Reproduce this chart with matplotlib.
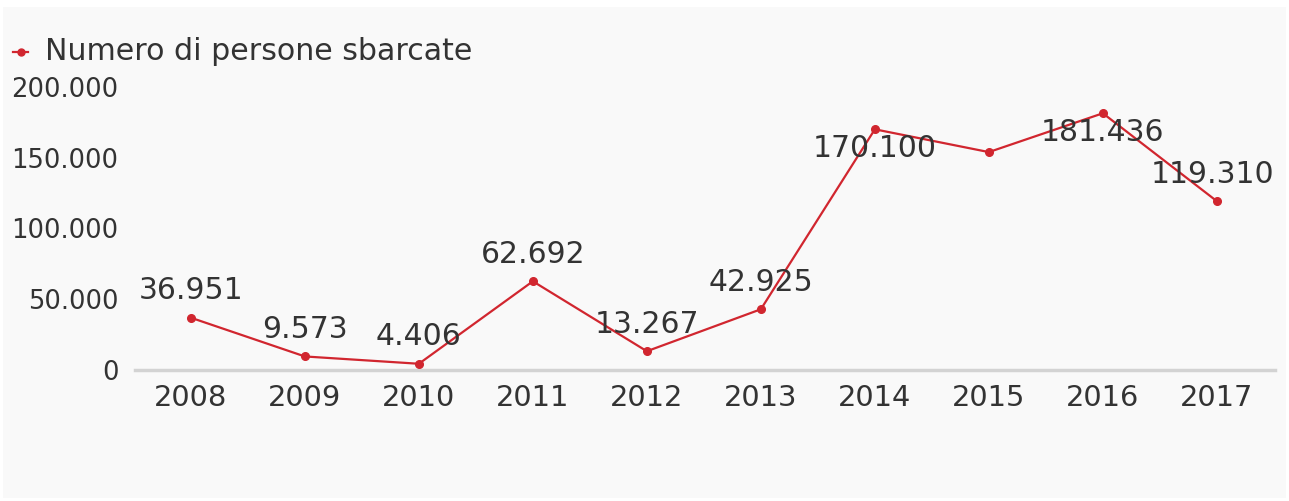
import matplotlib.pyplot as plt
from matplotlib.lines import Line2D
from matplotlib.patches import Rectangle
from matplotlib.ticker import FuncFormatter

plt.rcParams['font.family'] = ['DejaVu Sans']

# dati: persone sbarcate in Italia per anno
anni = ["2008", "2009", "2010", "2011", "2012", "2013", "2014", "2015", "2016", "2017"]
sbarcati = [36951, 9573, 4406, 62692, 13267, 42925, 170100, 154000, 181436, 119310]
# etichette: None = non mostrata, "b" = sotto il punto
etichetta = ["a", "a", "a", "a", "a", "a", "b", None, "b", "a"]
serie = "Numero di persone sbarcate"

rosso = "#d1262f"
testo = "#333333"

def it_fmt(v, pos=None):
    return f"{int(v):,}".replace(",", ".")

fig = plt.figure(figsize=(12.89, 5.01), dpi=100)
fig.patch.set_facecolor("white")
fig.add_artist(Rectangle((3 / 1289, 3 / 501), 1283 / 1289, 491 / 501,
                         transform=fig.transFigure, facecolor="#f9f9f9",
                         edgecolor="none", zorder=-10))

ax = fig.add_axes([135 / 1289, 131 / 501, 1140 / 1289, 283 / 501])
ax.set_facecolor("none")

x = list(range(len(anni)))
ax.plot(x, sbarcati, color=rosso, lw=1.6, marker="o", ms=5.5, zorder=3, clip_on=False)

for i, v in enumerate(sbarcati):
    if etichetta[i] is None:
        continue
    dy = 19.5 if etichetta[i] == "a" else -13.5
    dx = -3 if i == len(anni) - 1 else 0
    ax.annotate(it_fmt(v), (i, v), xytext=(dx, dy), textcoords="offset points",
                ha="center", va="center", fontsize=21.5, color=testo, zorder=4)

ax.set_xlim(-0.49, 9.51)
ax.set_ylim(0, 200000)
ax.set_xticks(x)
ax.set_xticklabels(anni)
ax.set_yticks([0, 50000, 100000, 150000, 200000])
ax.yaxis.set_major_formatter(FuncFormatter(it_fmt))
ax.tick_params(axis="x", length=0, pad=10, labelsize=20.8, labelcolor=testo)
ax.tick_params(axis="y", length=0, pad=12, labelsize=18.6, labelcolor=testo)

for s in ["top", "right", "left"]:
    ax.spines[s].set_visible(False)
ax.spines["bottom"].set_color("#d3d3d3")
ax.spines["bottom"].set_linewidth(2.5)

# legenda
fig.add_artist(Line2D([13 / 1289, 28 / 1289], [449 / 501, 449 / 501], color=rosso,
                      lw=1.6, transform=fig.transFigure))
fig.add_artist(Line2D([20.5 / 1289], [449 / 501], color=rosso, marker="o", ms=5,
                      transform=fig.transFigure))
fig.text(45 / 1289, 449 / 501, serie, fontsize=21.6, color=testo, va="center", ha="left")

fig.savefig("out.png", dpi=100, facecolor=fig.get_facecolor())
